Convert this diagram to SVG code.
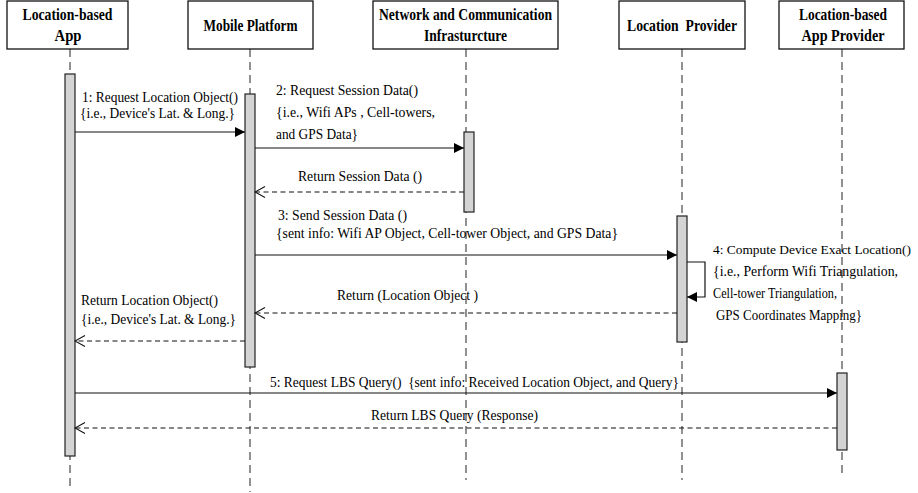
<svg xmlns="http://www.w3.org/2000/svg" width="918" height="493" viewBox="0 0 918 493">
  <style>
    .box { fill: #fff; stroke: #111; stroke-width: 1.3; }
    .life { stroke: #222; stroke-width: 1; stroke-dasharray: 8 5; fill: none; }
    .bar { fill: #d4d4d4; stroke: #222; stroke-width: 1.2; }
    .msg { stroke: #111; stroke-width: 1.2; fill: none; }
    .ret { stroke: #111; stroke-width: 1.2; fill: none; stroke-dasharray: 5 3.5; }
    .h { font-family: "Liberation Serif", "Times New Roman", serif; font-weight: bold; font-size: 17.5px; text-anchor: middle; fill: #000; }
    .t { font-family: "Liberation Serif", "Times New Roman", serif; font-size: 15px; fill: #000; white-space: pre; }
    .t.s { font-size: 13.5px; }
  </style>
  <defs>
    <marker id="filled" viewBox="0 0 10 10" refX="10" refY="5" markerWidth="10" markerHeight="10" markerUnits="userSpaceOnUse" orient="auto">
      <path d="M0,0 L10,5 L0,10 Z" fill="#000"/>
    </marker>
    <marker id="open" viewBox="0 0 12 12" refX="11" refY="6" markerWidth="12" markerHeight="12" markerUnits="userSpaceOnUse" orient="auto">
      <path d="M1,0.5 L11,6 L1,11.5" fill="none" stroke="#111" stroke-width="1.1" stroke-dasharray="none"/>
    </marker>
  </defs>

  <rect width="918" height="493" fill="#fff"/>

  <!-- lifelines -->
  <g id="lifelines">
    <line class="life" x1="70" y1="49" x2="70" y2="488"/>
    <line class="life" x1="250" y1="49" x2="250" y2="492"/>
    <line class="life" x1="466" y1="49" x2="466" y2="480"/>
    <line class="life" x1="682" y1="49" x2="682" y2="480"/>
    <line class="life" x1="842" y1="49" x2="842" y2="477"/>
  </g>

  <!-- participants -->
  <g id="app">
    <rect class="box" x="7" y="1" width="121" height="48"/>
    <text class="h" x="67.5" y="20" textLength="90" lengthAdjust="spacingAndGlyphs">Location-based</text>
    <text class="h" x="68" y="41" textLength="27" lengthAdjust="spacingAndGlyphs">App</text>
    <rect class="bar" x="65" y="74" width="10" height="382"/>
  </g>
  <g id="mobile">
    <rect class="box" x="188" y="1" width="125" height="48"/>
    <text class="h" x="250.5" y="31" textLength="94" lengthAdjust="spacingAndGlyphs">Mobile Platform</text>
    <rect class="bar" x="245" y="94" width="10" height="273"/>
  </g>
  <g id="network">
    <rect class="box" x="373" y="1" width="185" height="48"/>
    <text class="h" x="465.5" y="20" textLength="173" lengthAdjust="spacingAndGlyphs">Network and Communication</text>
    <text class="h" x="465.5" y="41" textLength="83" lengthAdjust="spacingAndGlyphs">Infrasturcture</text>
    <rect class="bar" x="464" y="132" width="10" height="80"/>
  </g>
  <g id="provider">
    <rect class="box" x="619" y="1" width="126" height="48"/>
    <text class="h" x="682" y="31" textLength="110" lengthAdjust="spacingAndGlyphs" xml:space="preserve">Location  Provider</text>
    <rect class="bar" x="677" y="216" width="10" height="126"/>
  </g>
  <g id="lbs-provider">
    <rect class="box" x="779" y="1" width="125" height="48"/>
    <text class="h" x="843" y="20" textLength="88" lengthAdjust="spacingAndGlyphs">Location-based</text>
    <text class="h" x="843" y="41" textLength="83" lengthAdjust="spacingAndGlyphs">App Provider</text>
    <rect class="bar" x="837" y="373" width="10" height="77"/>
  </g>

  <!-- messages -->
  <g id="connectors">
    <line class="msg" x1="75" y1="132" x2="245" y2="132" marker-end="url(#filled)"/>
    <line class="msg" x1="255" y1="148" x2="464" y2="148" marker-end="url(#filled)"/>
    <line class="ret" x1="464" y1="192" x2="255" y2="192" marker-end="url(#open)"/>
    <line class="msg" x1="255" y1="255" x2="677" y2="255" marker-end="url(#filled)"/>
    <path class="msg" d="M687,262 H705 V297 H687" marker-end="url(#filled)"/>
    <line class="ret" x1="677" y1="313" x2="255" y2="313" marker-end="url(#open)"/>
    <line class="ret" x1="245" y1="341" x2="75" y2="341" marker-end="url(#open)"/>
    <line class="msg" x1="75" y1="393" x2="837" y2="393" marker-end="url(#filled)"/>
    <line class="ret" x1="837" y1="428" x2="75" y2="428" marker-end="url(#open)"/>
  </g>

  <!-- message labels -->
  <g id="labels">
    <text class="t" x="82" y="102" textLength="156" lengthAdjust="spacingAndGlyphs">1: Request Location Object()</text>
    <text class="t" x="80" y="118" textLength="155" lengthAdjust="spacingAndGlyphs">{i.e., Device's Lat. &amp; Long.}</text>

    <text class="t" x="276" y="95" textLength="142" lengthAdjust="spacingAndGlyphs">2: Request Session Data()</text>
    <text class="t" x="276" y="117" textLength="159" lengthAdjust="spacingAndGlyphs">{i.e., Wifi APs , Cell-towers,</text>
    <text class="t" x="276" y="139" textLength="82" lengthAdjust="spacingAndGlyphs">and GPS Data}</text>

    <text class="t" x="298" y="181" textLength="124" lengthAdjust="spacingAndGlyphs">Return Session Data ()</text>

    <text class="t" x="278" y="220" textLength="129" lengthAdjust="spacingAndGlyphs">3: Send Session Data ()</text>
    <text class="t" x="276" y="238" textLength="342" lengthAdjust="spacingAndGlyphs">{sent info: Wifi AP Object, Cell-tower Object, and GPS Data}</text>

    <text class="t s" x="713" y="254" textLength="198" lengthAdjust="spacingAndGlyphs">4: Compute Device Exact Location()</text>
    <text class="t" x="713" y="276" textLength="185" lengthAdjust="spacingAndGlyphs">{i.e., Perform Wifi Triangulation,</text>
    <text class="t" x="713" y="298" textLength="124" lengthAdjust="spacingAndGlyphs">Cell-tower Triangulation,</text>
    <text class="t" x="716" y="320" textLength="146" lengthAdjust="spacingAndGlyphs">GPS Coordinates Mapping}</text>

    <text class="t" x="337" y="300" textLength="141" lengthAdjust="spacingAndGlyphs">Return (Location Object )</text>

    <text class="t" x="81" y="305" textLength="137" lengthAdjust="spacingAndGlyphs">Return Location Object()</text>
    <text class="t" x="81" y="324" textLength="155" lengthAdjust="spacingAndGlyphs">{i.e., Device's Lat. &amp; Long.}</text>

    <text class="t" x="270" y="387" textLength="409" lengthAdjust="spacingAndGlyphs" xml:space="preserve">5: Request LBS Query()  {sent info: Received Location Object, and Query}</text>
    <text class="t" x="371" y="420" textLength="167" lengthAdjust="spacingAndGlyphs">Return LBS Query (Response)</text>
  </g>
</svg>
